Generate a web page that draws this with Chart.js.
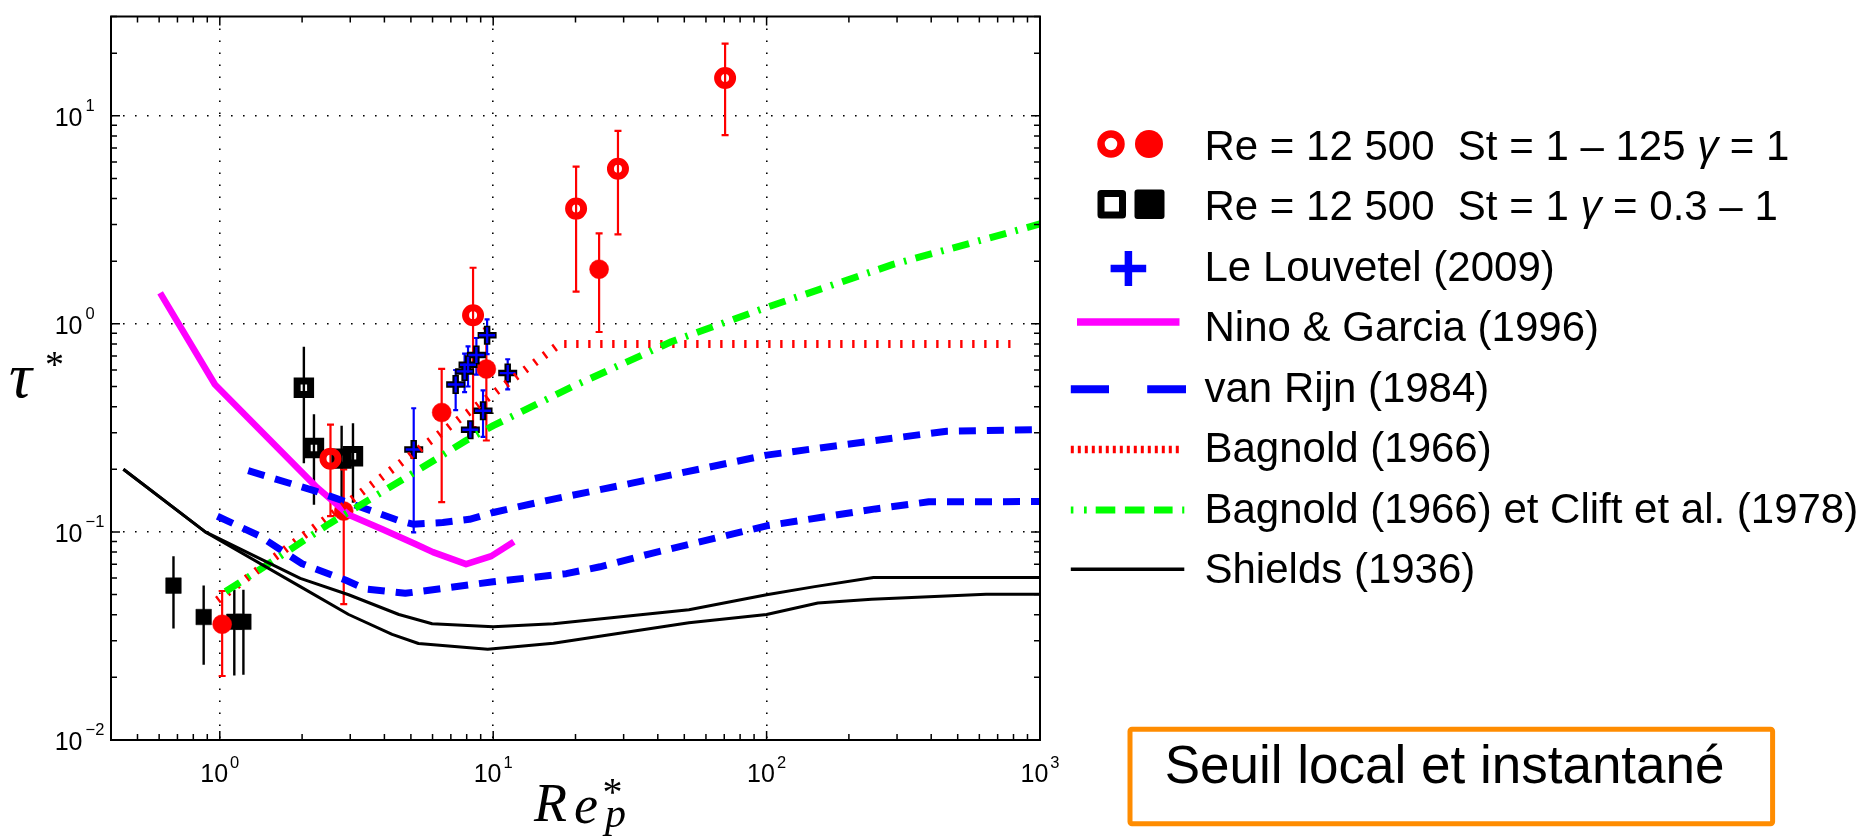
<!DOCTYPE html>
<html>
<head>
<meta charset="utf-8">
<script src="https://cdn.jsdelivr.net/npm/chart.js@4.4.1/dist/chart.umd.min.js"></script>
<style>
  html, body { margin: 0; padding: 0; background: #ffffff; }
  #wrap { width: 1872px; height: 839px; position: relative; }
  canvas { display: block; }
</style>
</head>
<body>
<div id="wrap"><canvas id="c" width="1872" height="839"></canvas></div>
<script>
// ---------------- DATA ----------------
// Re = 12 500, St = 1 – 125, gamma = 1 (open / filled red circles)
const stOpenX  = [2.54, 8.44, 20.1, 28.6, 70.5];
const stOpenY  = [0.225, 1.10, 3.58, 5.56, 15.2];
const stOpenLo = [0.119, 0.319, 1.43, 2.69, 8.08];
const stOpenHi = [0.328, 1.86, 5.70, 8.47, 22.2];

const stFillX  = [1.02, 2.84, 6.48, 9.44, 24.4];
const stFillY  = [0.036, 0.126, 0.375, 0.607, 1.83];
const stFillLo = [0.0203, 0.045, 0.139, 0.275, 0.914];
const stFillHi = [0.052, 0.20, 0.607, 0.95, 2.72];

// Re = 12 500, St = 1, gamma = 0.3 – 1 (open / filled black squares)
const gamOpenX  = [2.03, 2.21, 2.79, 3.07];
const gamOpenY  = [0.493, 0.253, 0.225, 0.231];
const gamOpenLo = [0.214, 0.135, 0.138, 0.138];
const gamOpenHi = [0.776, 0.368, 0.324, 0.333];

const gamFillX  = [0.677, 0.873, 1.13, 1.22];
const gamFillY  = [0.0552, 0.039, 0.037, 0.037];
const gamFillLo = [0.0343, 0.023, 0.0204, 0.0206];
const gamFillHi = [0.0764, 0.0552, 0.0527, 0.0527];

// Le Louvetel (2009)
const louvX  = [5.12, 7.29, 7.86, 8.09, 8.25, 8.68, 9.18, 9.5, 11.3];
const louvY  = [0.249, 0.511, 0.591, 0.636, 0.31, 0.709, 0.382, 0.882, 0.58];
const louvLo = [0.0996, 0.385, 0.47, 0.50, 0.29, 0.57, 0.286, 0.715, 0.484];
const louvHi = [0.393, 0.60, 0.72, 0.78, 0.33, 0.855, 0.479, 1.05, 0.676];

// Nino & Garcia (1996)
const ninoX = [0.605, 0.96, 2.24, 2.96, 3.93, 5.19, 6.02, 7.96, 9.84, 11.9];
const ninoY = [1.41, 0.511, 0.166, 0.121, 0.103, 0.0875, 0.080, 0.070, 0.0765, 0.0898];

// van Rijn (1984) – two curves
const rijnUpX = [1.27, 2.24, 2.96, 4.55, 5.09, 6.54, 8.19, 10, 14, 18.5, 32.5, 100, 250, 456, 1000];
const rijnUpY = [0.197, 0.157, 0.138, 0.113, 0.109, 0.111, 0.115, 0.124, 0.137, 0.148, 0.172, 0.234, 0.275, 0.305, 0.31];
const rijnLoX = [0.98, 1.39, 2.0, 2.88, 3.41, 4.77, 10, 18.5, 24.6, 37.4, 100, 250, 392, 1000];
const rijnLoY = [0.119, 0.096, 0.0703, 0.0587, 0.0532, 0.0507, 0.0576, 0.063, 0.068, 0.0785, 0.107, 0.129, 0.1395, 0.14];

// Bagnold (1966)
const bagX = [0.98, 17.5, 780];
const bagY = [0.047, 0.8, 0.8];

// Bagnold (1966) et Clift et al. (1978)
const cliftX = [1.05, 1.51, 2.5, 4.65, 7.96, 10, 19.6, 44.8, 100, 290, 1000];
const cliftY = [0.0517, 0.0703, 0.109, 0.178, 0.275, 0.324, 0.501, 0.82, 1.2, 1.93, 3.02];

// Shields (1936) – two curves
const shUpX = [0.444, 0.885, 1.97, 2.96, 4.52, 5.98, 10, 16.6, 52, 100, 150, 246, 1000];
const shUpY = [0.2, 0.1, 0.0598, 0.0499, 0.0401, 0.0362, 0.035, 0.0362, 0.0423, 0.0499, 0.0546, 0.0604, 0.0604];
const shLoX = [0.444, 0.885, 1.97, 2.96, 4.27, 5.33, 9.55, 16.6, 52, 100, 154, 242, 635, 1000];
const shLoY = [0.2, 0.1, 0.0546, 0.0401, 0.0322, 0.0291, 0.0273, 0.0292, 0.0366, 0.0401, 0.0455, 0.0475, 0.0502, 0.0502];

// Axes / ticks
const xRange = [0.4, 1000];
const yRange = [0.01, 30];
const xTickValues = [1, 10, 100, 1000];
const xTickExps = ['0', '1', '2', '3'];
const yTickValues = [0.01, 0.1, 1, 10];
const yTickExps = ['\u22122', '\u22121', '0', '1'];
const xGridValues = [1, 10, 100];
const yGridValues = [0.1, 1, 10];

// Legend / annotation text
const legendLabels = [
  'Re = 12 500  St = 1 \u2013 125 \u03b3 = 1',
  'Re = 12 500  St = 1 \u03b3 = 0.3 \u2013 1',
  'Le Louvetel (2009)',
  'Nino & Garcia (1996)',
  'van Rijn (1984)',
  'Bagnold (1966)',
  'Bagnold (1966) et Clift et al. (1978)',
  'Shields (1936)'
];
const boxText = 'Seuil local et instantan\u00e9';

// ---------------- BUILD ----------------
const pts = (xs, ys) => xs.map((x, i) => ({ x: x, y: ys[i] }));
const RED = '#ff0000', BLUE = '#0000ff', MAG = '#ff00ff', GREEN = '#00ff00', BLACK = '#000000';
const SANS = '"Liberation Sans", Arial, Helvetica, sans-serif';
const SERIF = '"Liberation Serif", "Times New Roman", serif';

function curve(xs, ys, color, width, dash, order) {
  return { data: pts(xs, ys), showLine: true, pointRadius: 0, pointHoverRadius: 0,
    borderColor: color, borderWidth: width, borderDash: dash, borderCapStyle: 'butt',
    borderJoinStyle: 'round', fill: false, tension: 0, order: order };
}
function marks(xs, ys, style, radius, bw, border, bg, order) {
  return { data: pts(xs, ys), showLine: false, pointStyle: style, pointRadius: radius,
    pointHoverRadius: radius, pointBorderWidth: bw, pointBorderColor: border,
    pointBackgroundColor: bg, borderColor: border, backgroundColor: bg, order: order };
}

const datasets = [
  marks(gamFillX, gamFillY, 'rect', 11, 0.5, BLACK, BLACK, 12),
  marks(gamOpenX, gamOpenY, 'rect', 9.5, 7, BLACK, 'rgba(0,0,0,0)', 12),
  marks(stFillX, stFillY, 'circle', 9.5, 0.5, RED, RED, 11),
  marks(stOpenX, stOpenY, 'circle', 7.5, 7, RED, 'rgba(0,0,0,0)', 11),
  marks(louvX, louvY, 'cross', 9.5, 6.5, BLACK, BLACK, 10),
  marks(louvX, louvY, 'cross', 8, 2.4, BLUE, BLUE, 9),
  curve(ninoX, ninoY, MAG, 6.5, [], 6),
  curve(rijnUpX, rijnUpY, BLUE, 7, [17, 11], 5),
  curve(rijnLoX, rijnLoY, BLUE, 7, [17, 11], 5),
  curve(bagX, bagY, RED, 8, [2.4, 9.6], 4),
  curve(cliftX, cliftY, GREEN, 7, [17, 9.5, 2.5, 9.5], 3),
  curve(shUpX, shUpY, BLACK, 3, [], 2),
  curve(shLoX, shLoY, BLACK, 3, [], 2)
];

const errSpecs = [
  { xs: gamFillX, lo: gamFillLo, hi: gamFillHi, color: BLACK, width: 2.4, cap: 0 },
  { xs: gamOpenX, lo: gamOpenLo, hi: gamOpenHi, color: BLACK, width: 2.4, cap: 0 },
  { xs: stFillX, lo: stFillLo, hi: stFillHi, color: RED, width: 2.2, cap: 3.5 },
  { xs: stOpenX, lo: stOpenLo, hi: stOpenHi, color: RED, width: 2.2, cap: 3.5 },
  { xs: louvX, lo: louvLo, hi: louvHi, color: BLUE, width: 2.2, cap: 2.5 }
];

function textTop(ctx, str, font, left, top) {
  ctx.font = font;
  ctx.textAlign = 'left';
  ctx.textBaseline = 'alphabetic';
  const m = ctx.measureText(str);
  ctx.fillText(str, left + m.actualBoundingBoxLeft, top + m.actualBoundingBoxAscent);
}

function drawRich(ctx, str, x, y, size) {
  const parts = str.split('\u03b3');
  let cx = x;
  ctx.textAlign = 'left';
  ctx.textBaseline = 'alphabetic';
  parts.forEach((p, i) => {
    ctx.font = size + 'px ' + SANS;
    ctx.fillText(p, cx, y);
    cx += ctx.measureText(p).width;
    if (i < parts.length - 1) {
      ctx.font = 'italic ' + size + 'px ' + SANS;
      ctx.fillText('\u03b3', cx, y);
      cx += ctx.measureText('\u03b3').width;
    }
  });
}

const decor = {
  id: 'decor',
  beforeDatasetsDraw(chart) {
    const { ctx, chartArea: a } = chart;
    const x = chart.scales.x, y = chart.scales.y;
    ctx.save();
    ctx.beginPath();
    ctx.rect(a.left, a.top, a.right - a.left, a.bottom - a.top);
    ctx.clip();
    errSpecs.forEach(s => {
      ctx.strokeStyle = s.color;
      ctx.lineWidth = s.width;
      ctx.lineCap = 'butt';
      ctx.setLineDash([]);
      s.xs.forEach((xv, i) => {
        const px = x.getPixelForValue(xv);
        const p1 = y.getPixelForValue(s.lo[i]);
        const p2 = y.getPixelForValue(s.hi[i]);
        ctx.beginPath();
        ctx.moveTo(px, p1); ctx.lineTo(px, p2);
        if (s.cap) {
          ctx.moveTo(px - s.cap, p1); ctx.lineTo(px + s.cap, p1);
          ctx.moveTo(px - s.cap, p2); ctx.lineTo(px + s.cap, p2);
        }
        ctx.stroke();
      });
    });
    ctx.restore();
  },
  afterDraw(chart) {
    const { ctx, chartArea: a } = chart;
    const x = chart.scales.x, y = chart.scales.y;
    ctx.save();
    ctx.setLineDash([]);
    // frame
    ctx.strokeStyle = BLACK;
    ctx.lineWidth = 2;
    ctx.strokeRect(a.left, a.top, a.right - a.left, a.bottom - a.top);
    // inner ticks (major + minor) on four sides
    ctx.lineWidth = 1.5;
    ctx.beginPath();
    for (let n = -1; n <= 3; n++) {
      for (let k = 1; k <= 9; k++) {
        const v = k * Math.pow(10, n);
        if (v < xRange[0] || v > xRange[1]) continue;
        const px = x.getPixelForValue(v);
        const len = k === 1 ? 9 : 6;
        ctx.moveTo(px, a.bottom); ctx.lineTo(px, a.bottom - len);
        ctx.moveTo(px, a.top); ctx.lineTo(px, a.top + len);
      }
    }
    for (let n = -2; n <= 1; n++) {
      for (let k = 1; k <= 9; k++) {
        const v = k * Math.pow(10, n);
        if (v < yRange[0] || v > yRange[1]) continue;
        const py = y.getPixelForValue(v);
        const len = k === 1 ? 9 : 6;
        ctx.moveTo(a.left, py); ctx.lineTo(a.left + len, py);
        ctx.moveTo(a.right, py); ctx.lineTo(a.right - len, py);
      }
    }
    ctx.stroke();

    // tick labels 10^n
    ctx.fillStyle = BLACK;
    ctx.textBaseline = 'alphabetic';
    const baseFont = '25px ' + SANS, expFont = '16.5px ' + SANS;
    xTickValues.forEach((v, i) => {
      const px = x.getPixelForValue(v);
      ctx.font = baseFont; const w1 = ctx.measureText('10').width;
      ctx.font = expFont; const w2 = ctx.measureText(xTickExps[i]).width;
      const left = px - (w1 + 2 + w2) / 2;
      ctx.textAlign = 'left';
      ctx.font = baseFont; ctx.fillText('10', left, a.bottom + 42);
      ctx.font = expFont; ctx.fillText(xTickExps[i], left + w1 + 2, a.bottom + 28);
    });
    yTickValues.forEach((v, i) => {
      const py = y.getPixelForValue(v);
      ctx.textAlign = 'right';
      ctx.font = baseFont; ctx.fillText('10', 82.5, py + 9.8);
      ctx.textAlign = 'left';
      ctx.font = expFont; ctx.fillText(yTickExps[i], 85.5, py - 5.2);
    });

    // axis titles
    textTop(ctx, '\u03c4', 'italic 64px ' + SERIF, 10, 368);
    textTop(ctx, '*', '38px ' + SERIF, 46, 352);
    textTop(ctx, 'R', 'italic 54px ' + SERIF, 533, 785);
    textTop(ctx, 'e', 'italic 54px ' + SERIF, 575, 797);
    textTop(ctx, '*', '40px ' + SERIF, 603.5, 779);
    textTop(ctx, 'p', 'italic 42px ' + SERIF, 602, 807);

    // legend
    const baseY0 = 160, step = 60.47, tx = 1204.5;
    ctx.fillStyle = BLACK;
    legendLabels.forEach((lab, i) => drawRich(ctx, lab, tx, baseY0 + step * i, 42));
    // row 1: red circles
    ctx.lineWidth = 7.5; ctx.strokeStyle = RED;
    ctx.beginPath(); ctx.arc(1111, 144, 10, 0, Math.PI * 2); ctx.stroke();
    ctx.fillStyle = RED;
    ctx.beginPath(); ctx.arc(1149, 144, 14, 0, Math.PI * 2); ctx.fill();
    // row 2: black squares
    ctx.strokeStyle = BLACK; ctx.lineWidth = 7; ctx.lineJoin = 'round';
    ctx.strokeRect(1101, 193.5, 21.5, 21.5);
    ctx.fillStyle = BLACK;
    ctx.beginPath();
    if (ctx.roundRect) ctx.roundRect(1134.5, 189.5, 30, 29.5, 3); else ctx.rect(1134.5, 189.5, 30, 29.5);
    ctx.fill();
    // row 3: blue plus
    ctx.strokeStyle = BLUE; ctx.lineWidth = 7.5; ctx.lineCap = 'butt';
    ctx.beginPath();
    ctx.moveTo(1110.6, 268.5); ctx.lineTo(1146.2, 268.5);
    ctx.moveTo(1128.4, 251); ctx.lineTo(1128.4, 286);
    ctx.stroke();
    // row 4: magenta line
    ctx.strokeStyle = MAG; ctx.lineWidth = 7.3;
    ctx.beginPath(); ctx.moveTo(1077, 322); ctx.lineTo(1179.5, 322); ctx.stroke();
    // row 5: blue dashes
    ctx.strokeStyle = BLUE; ctx.lineWidth = 8;
    ctx.beginPath();
    ctx.moveTo(1070.8, 389.3); ctx.lineTo(1109, 389.3);
    ctx.moveTo(1147.2, 389.3); ctx.lineTo(1186, 389.3);
    ctx.stroke();
    // row 6: red dotted
    ctx.strokeStyle = RED; ctx.lineWidth = 7.7; ctx.setLineDash([3, 4]);
    ctx.beginPath(); ctx.moveTo(1070.8, 449.5); ctx.lineTo(1182.2, 449.5); ctx.stroke();
    // row 7: green dash-dot
    ctx.strokeStyle = GREEN; ctx.lineWidth = 7;
    ctx.setLineDash([2.6, 10.6, 2.7, 9, 19.6, 9.6, 19.6, 9.5, 18.6, 9.6, 2.1, 50]);
    ctx.beginPath(); ctx.moveTo(1070.8, 510); ctx.lineTo(1184.3, 510); ctx.stroke();
    ctx.setLineDash([]);
    // row 8: black line
    ctx.strokeStyle = BLACK; ctx.lineWidth = 3.5;
    ctx.beginPath(); ctx.moveTo(1070.8, 569.3); ctx.lineTo(1184.3, 569.3); ctx.stroke();

    // annotation box
    ctx.strokeStyle = '#ff8c00'; ctx.lineWidth = 5; ctx.lineJoin = 'round';
    ctx.beginPath();
    if (ctx.roundRect) ctx.roundRect(1130, 729.2, 642.6, 94.5, 2); else ctx.rect(1130, 729.2, 642.6, 94.5);
    ctx.stroke();
    ctx.fillStyle = BLACK; ctx.textAlign = 'left'; ctx.textBaseline = 'alphabetic';
    ctx.font = '53px ' + SANS;
    ctx.fillText(boxText, 1164.7, 782.7);
    ctx.restore();
  }
};

Chart.defaults.font.family = SANS;

new Chart(document.getElementById('c'), {
  type: 'scatter',
  data: { datasets: datasets },
  options: {
    responsive: false,
    maintainAspectRatio: false,
    devicePixelRatio: 1,
    animation: false,
    events: [],
    layout: { padding: { left: 111, top: 7, right: 1872 - 1040, bottom: 839 - 740 } },
    plugins: { legend: { display: false }, tooltip: { enabled: false }, title: { display: false } },
    scales: {
      x: {
        type: 'logarithmic', position: 'bottom', min: xRange[0], max: xRange[1],
        afterBuildTicks: s => { s.ticks = xGridValues.map(v => ({ value: v })); },
        ticks: { display: false },
        grid: { drawTicks: false, color: BLACK, lineWidth: 1.6 },
        border: { display: false, dash: [1.6, 10.4] }
      },
      y: {
        type: 'logarithmic', position: 'left', min: yRange[0], max: yRange[1],
        afterBuildTicks: s => { s.ticks = yGridValues.map(v => ({ value: v })); },
        ticks: { display: false },
        grid: { drawTicks: false, color: BLACK, lineWidth: 1.6 },
        border: { display: false, dash: [1.6, 10.4] }
      }
    }
  },
  plugins: [decor]
});
</script>
</body>
</html>
